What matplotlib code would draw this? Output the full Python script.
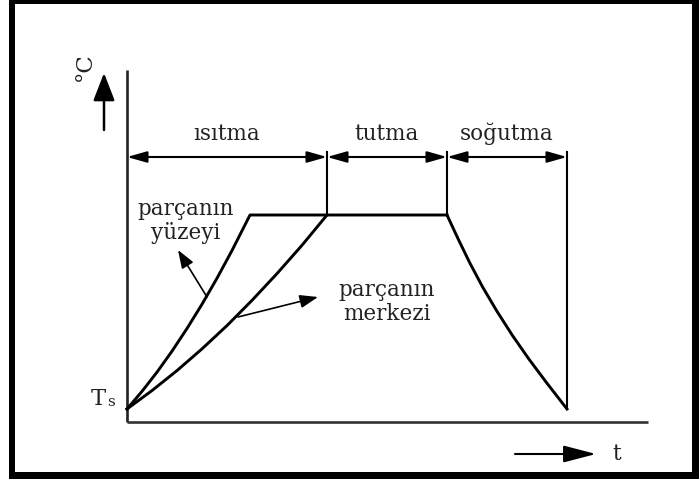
import matplotlib
matplotlib.use("Agg")
import matplotlib.pyplot as plt
from matplotlib.patches import Rectangle

# ---- schematic data (t in time units, T relative: Ts = 0, holding = 10) ----
phase_labels = ["ısıtma", "tutma", "soğutma"]
phase_bounds_t = [0, 10, 16, 22]
T_s = 0
T_hold = 10

surface_t = [0, 0.75, 1.5, 2.25, 3.0, 3.75, 4.5, 5.25, 6.15]
surface_T = [0, 0.91, 1.90, 2.98, 4.15, 5.40, 6.74, 8.17, 10]

center_t = [0, 1.25, 2.5, 3.75, 5.0, 6.25, 7.5, 8.75, 10]
center_T = [0, 0.95, 1.98, 3.10, 4.30, 5.60, 6.98, 8.44, 10]

cooling_t = [16, 16.56, 17.14, 17.78, 18.49, 19.26, 20.09, 20.99, 22]
cooling_T = [10, 8.76, 7.53, 6.29, 5.05, 3.81, 2.58, 1.34, 0]

label_surface = "parçanın\nyüzeyi"
label_center = "parçanın\nmerkezi"
label_temp = "°C"
label_time = "t"
label_ts = "T"
label_ts_sub = "s"

# ---- layout: pixel anchors of the picture ----
W, H = 700, 479
X0, PX_T = 127, 20.0      # pixel x of t=0, pixels per t unit
Y0, PX_Y = 409, 19.4      # pixel y of T=0, pixels per T unit


def P(x, y):
    return (x - X0) / PX_T, (Y0 - y) / PX_Y


fig = plt.figure(figsize=(W / 100, H / 100), dpi=100)
ax = fig.add_axes([0, 0, 1, 1])
ax.set_xlim(P(0, 0)[0], P(W, 0)[0])
ax.set_ylim(P(0, H)[1], P(0, 0)[1])
ax.axis("off")

# border
for (x, y, w, h) in [(9, 0, 6, H), (9, 0, 690, 4), (9, 472, 690, 7), (692, 0, 7, H)]:
    ax.add_patch(Rectangle((x / W, 1 - (y + h) / H), w / W, h / H,
                           transform=ax.transAxes, color="black", lw=0))

fam = ["DejaVu Serif"]
tcol = "#222222"
fs = 15.5

# axes lines
base_T = P(0, 422)[1]
ax.plot([0, 0], [base_T, P(0, 70)[1]], color="#222222", lw=1.9, solid_capstyle="butt")
ax.plot([0, P(648, 0)[0]], [base_T, base_T], color="#333333", lw=1.9, solid_capstyle="butt")

# curves
ax.plot(surface_t + [phase_bounds_t[2]], surface_T + [T_hold], color="black", lw=2.1,
        solid_joinstyle="round")
ax.plot(center_t, center_T, color="black", lw=2.1, solid_joinstyle="round")
ax.plot(cooling_t, cooling_T, color="black", lw=2.1, solid_joinstyle="round")

# vertical phase lines
top_T = P(0, 152)[1]
for tb in phase_bounds_t[1:3]:
    ax.plot([tb, tb], [T_hold, top_T], color="black", lw=1.5)
ax.plot([phase_bounds_t[3]] * 2, [T_s, top_T], color="black", lw=1.5)

# dimension arrows & phase labels
dim_T = P(0, 157)[1]
lab_T = P(0, 140)[1]
for i, lab in enumerate(phase_labels):
    a, b = phase_bounds_t[i], phase_bounds_t[i + 1]
    ax.annotate("", xy=(b, dim_T), xytext=(a, dim_T),
                arrowprops=dict(arrowstyle="<|-|>,head_length=0.6,head_width=0.17",
                                mutation_scale=20, lw=1.5, color="black",
                                shrinkA=0, shrinkB=0))
    ax.text((a + b) / 2, lab_T, lab, ha="center", va="baseline", fontsize=fs,
            family=fam, color=tcol)

# callout arrows
ax.annotate("", xy=P(178, 250), xytext=P(207, 297),
            arrowprops=dict(arrowstyle="-|>,head_length=0.55,head_width=0.2",
                            mutation_scale=20, lw=1.2, color="black",
                            shrinkA=0, shrinkB=0))
ax.annotate("", xy=P(318, 297), xytext=P(238, 317),
            arrowprops=dict(arrowstyle="-|>,head_length=0.55,head_width=0.2",
                            mutation_scale=20, lw=1.2, color="black",
                            shrinkA=0, shrinkB=0))
ax.text(*P(186, 221), label_surface, ha="center", va="center", fontsize=fs,
        family=fam, color=tcol, linespacing=1.1)
ax.text(*P(387, 302), label_center, ha="center", va="center", fontsize=fs,
        family=fam, color=tcol, linespacing=1.1)

# temperature arrow and unit
ax.annotate("", xy=P(104, 73), xytext=P(104, 130),
            arrowprops=dict(arrowstyle="-|>,head_length=0.85,head_width=0.33",
                            mutation_scale=20, lw=1.8, color="black",
                            shrinkA=0, shrinkB=0))
ax.text(*P(85, 67), label_temp, ha="center", va="center", rotation=90,
        fontsize=fs + 1, family=fam, color=tcol)

# time arrow and label
ax.annotate("", xy=P(596, 454), xytext=P(515, 454),
            arrowprops=dict(arrowstyle="-|>,head_length=1.0,head_width=0.26",
                            mutation_scale=20, lw=1.5, color="black",
                            shrinkA=0, shrinkB=0))
ax.text(*P(617, 460), label_time, ha="center", va="baseline", fontsize=fs,
        family=fam, color=tcol)

# Ts label
ax.text(*P(106, 405), label_ts, ha="right", va="baseline", fontsize=fs + 1,
        family=fam, color=tcol)
ax.text(*P(107, 406), label_ts_sub, ha="left", va="baseline", fontsize=fs * 0.7,
        family=fam, color=tcol)

fig.savefig("out.png", dpi=100)
